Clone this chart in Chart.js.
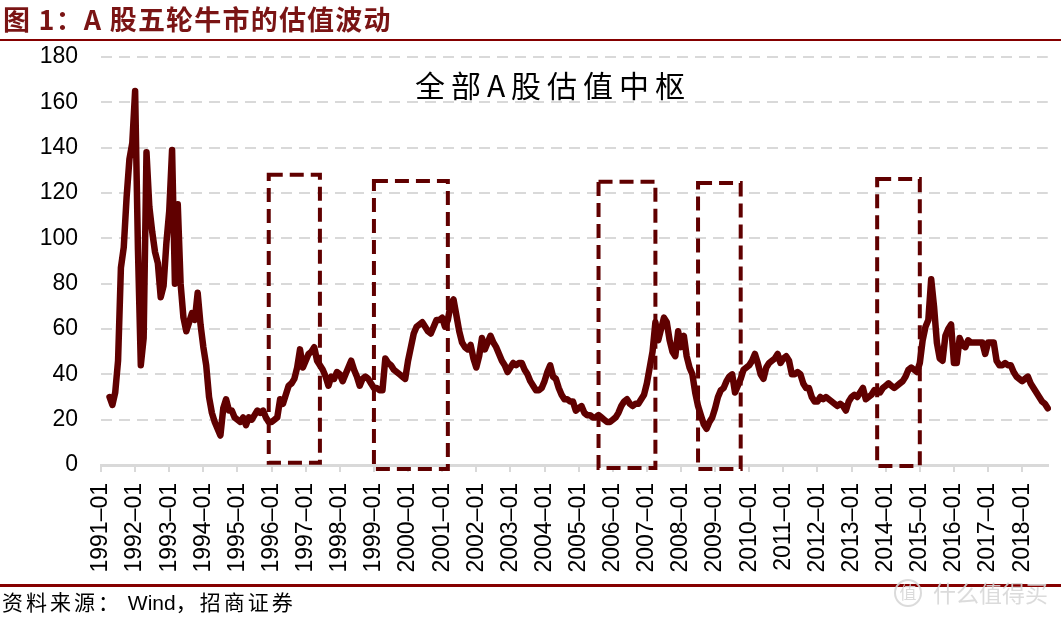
<!DOCTYPE html>
<html>
<head>
<meta charset="utf-8">
<script src="https://cdn.jsdelivr.net/npm/chart.js@4.4.0/dist/chart.umd.min.js"></script>
<style>
  html, body { margin: 0; padding: 0; background: #fff; }
  canvas { display: block; }
</style>
</head>
<body>
<canvas id="myChart" width="1061" height="618"></canvas>
<script>
// 全部A股估值（月度），1991-01 ~ 2018-10
const startYear = 1991;
const monthCount = 334;

const peValues = [
  null, null, null, 30, 26.5, 32, 46, 87, 96, 118, 135, 142,   // 1991
  165, 95, 44, 56, 138, 114, 103, 94, 89, 74, 79, 98,           // 1992
  112, 139, 80, 115, 80, 65, 59, 63, 67, 64, 76, 62,            // 1993
  52, 44, 30, 23, 19, 16, 13, 25, 29, 24, 24, 21,               // 1994
  20, 19, 21, 17.6, 21, 20, 22, 24, 23, 24, 21, 19,             // 1995
  19, 20, 21, 29, 27, 31, 35, 36, 38, 43, 51, 43,               // 1996
  46, 49, 50, 52, 46, 44, 42, 39, 35, 39, 38, 41,               // 1997
  40, 37, 40, 43, 46, 42, 39, 35, 38, 39, 38, 36,               // 1998
  34, 34, 33, 33, 47, 45, 44, 42, 41, 40, 39, 38,               // 1999
  46, 52, 58, 61, 62, 63, 61, 59, 58, 61, 64, 64,               // 2000
  65, 61, 64, 71, 73, 66, 59, 54, 52, 51, 53, 47,               // 2001
  43, 48, 56, 51, 54, 57, 54, 52, 49, 46, 44, 41,               // 2002
  43, 45, 44, 45, 45, 42, 40, 37, 35, 33, 33, 34,               // 2003
  37, 41, 44, 39, 38, 34, 31, 29, 29, 28, 28, 24,               // 2004
  25, 26, 23, 22, 22, 21, 21, 22, 21, 20, 19, 19,               // 2005
  20, 21, 23, 26, 28, 29, 27, 26, 27, 27, 29, 31,               // 2006
  36, 43, 50, 63, 55, 60, 65, 63, 55, 50, 48, 59,               // 2007
  52, 57, 48, 43, 40, 32, 26, 22, 18, 16, 19, 21,               // 2008
  25, 30, 33, 34, 37, 39, 40, 32, 35, 38, 42, 43,               // 2009
  44, 46, 49, 45, 40, 38, 43, 45, 46, 47, 49, 45,               // 2010
  47, 48, 46, 40, 40, 41, 40, 36, 34, 34, 30, 28,               // 2011
  28, 30, 29, 30, 29, 28, 27, 26, 27, 26, 24, 28,               // 2012
  30, 31, 30, 32, 34, 29, 30, 31, 33, 32, 32, 34,               // 2013
  35, 36, 35, 34, 35, 36, 37, 39, 42, 43, 42, 41,               // 2014
  45, 55, 61, 64, 82, 70, 54, 47, 46, 57, 60, 62,               // 2015
  45, 45, 56, 53, 52, 55, 54, 54, 54, 54, 54, 49,               // 2016
  54, 54, 54, 46, 44, 44, 45, 44, 44, 41, 39, 38,               // 2017
  37, 38, 39, 36, 34, 32, 30, 28, 27, 25                        // 2018
];

const yTicks = [0, 20, 40, 60, 80, 100, 120, 140, 160, 180];

// 五轮牛市（虚线框）
const bullRuns = [
  { from: '1995-12', to: '1997-06', top: 128, bottom: 1 },
  { from: '1999-01', to: '2001-03', top: 125.3, bottom: -1.8 },
  { from: '2005-08', to: '2007-04', top: 125, bottom: -1.3 },
  { from: '2008-07', to: '2009-10', top: 124.4, bottom: -1.8 },
  { from: '2013-10', to: '2015-01', top: 126.2, bottom: -0.4 }
];

const labels = [];
for (let i = 0; i < monthCount; i++) {
  const y = startYear + Math.floor(i / 12);
  const m = (i % 12) + 1;
  labels.push(y + '-' + (m < 10 ? '0' + m : m));
}

const darkRed = '#600000';
const cjk = '"Noto Sans CJK SC", "Liberation Sans", sans-serif';

const decor = {
  id: 'decor',
  beforeDraw(chart) {
    const ctx = chart.ctx;
    ctx.save();
    ctx.fillStyle = '#fff';
    ctx.fillRect(0, 0, chart.width, chart.height);
    ctx.restore();
  },
  afterDatasetsDraw(chart) {
    const ctx = chart.ctx;
    const xs = chart.scales.x, ys = chart.scales.y;
    ctx.save();
    ctx.strokeStyle = darkRed;
    ctx.lineWidth = 4;
    ctx.setLineDash([14, 7]);
    bullRuns.forEach(function(b) {
      const x1 = xs.getPixelForValue(labels.indexOf(b.from));
      const x2 = xs.getPixelForValue(labels.indexOf(b.to));
      const y1 = ys.getPixelForValue(b.top);
      const y2 = ys.getPixelForValue(b.bottom);
      ctx.strokeRect(x1, y1, x2 - x1, y2 - y1);
    });
    ctx.restore();
  },
  afterDraw(chart) {
    const ctx = chart.ctx;
    ctx.save();
    // 标题
    ctx.fillStyle = '#7a1414';
    ctx.font = 'bold 27px ' + cjk;
    ctx.textBaseline = 'alphabetic';
    ctx.letterSpacing = '1.2px';
    ctx.fillText('图 1：A 股五轮牛市的估值波动', 3, 30);
    ctx.letterSpacing = '0px';
    ctx.fillStyle = '#850000';
    ctx.fillRect(0, 39, chart.width, 2);
    // 注释
    ctx.fillStyle = '#000';
    ctx.font = '30px ' + cjk;
    ctx.textAlign = 'center';
    ctx.textBaseline = 'middle';
    ctx.letterSpacing = '6px';
    ctx.fillText('全部A股估值中枢', 553, 86);
    ctx.letterSpacing = '0px';
    // 资料来源
    ctx.fillStyle = '#850000';
    ctx.fillRect(0, 584, chart.width, 3);
    ctx.fillStyle = '#000';
    ctx.textAlign = 'left';
    ctx.textBaseline = 'alphabetic';
    let x = 2;
    [['资料来源：', cjk, '3px'], [' Wind', '"Liberation Sans", Arial, sans-serif', '0px'], ['，招商证券', cjk, '3px']].forEach(function(p) {
      ctx.font = '21px ' + p[1];
      ctx.letterSpacing = p[2];
      ctx.fillText(p[0], x, 610);
      x += ctx.measureText(p[0]).width;
    });
    ctx.letterSpacing = '0px';
    // 水印
    ctx.strokeStyle = 'rgba(215,215,215,0.9)';
    ctx.fillStyle = 'rgba(215,215,215,0.9)';
    ctx.lineWidth = 2;
    ctx.beginPath();
    ctx.arc(908, 593, 13, 0, Math.PI * 2);
    ctx.stroke();
    ctx.font = '17px ' + cjk;
    ctx.textAlign = 'center';
    ctx.textBaseline = 'middle';
    ctx.fillText('值', 908, 593);
    ctx.font = '23px ' + cjk;
    ctx.textAlign = 'left';
    ctx.fillText('什么值得买', 933, 593);
    ctx.restore();
  }
};

new Chart(document.getElementById('myChart'), {
  type: 'line',
  data: {
    labels: labels,
    datasets: [{
      label: '全部A股估值',
      data: peValues,
      borderColor: darkRed,
      borderWidth: 6.5,
      borderJoinStyle: 'round',
      borderCapStyle: 'round',
      pointRadius: 0,
      tension: 0,
      spanGaps: false
    }]
  },
  options: {
    responsive: false,
    animation: false,
    devicePixelRatio: 1,
    layout: { padding: { top: 57, right: 9, left: 0, bottom: 0 } },
    plugins: {
      legend: { display: false },
      tooltip: { enabled: false }
    },
    scales: {
      x: {
        type: 'category',
        offset: false,
        afterBuildTicks: function(scale) {
          scale.ticks = scale.ticks.filter(function(t) { return t.value % 12 === 0; });
        },
        afterFit: function(scale) { scale.height = 153; },
        grid: {
          drawOnChartArea: false,
          drawTicks: true,
          tickLength: 7,
          color: '#d9d9d9',
          lineWidth: 2
        },
        border: { display: true, color: '#d9d9d9', width: 3 },
        ticks: {
          autoSkip: false,
          minRotation: 90,
          maxRotation: 90,
          padding: 11,
          color: '#000',
          font: { family: '"Liberation Sans", Arial, sans-serif', size: 23 },
          callback: function(value) {
            return this.getLabelForValue(value).replace('-', '–');
          }
        }
      },
      y: {
        min: 0,
        max: 180,
        afterBuildTicks: function(scale) {
          scale.ticks = yTicks.map(function(v) { return { value: v }; });
        },
        afterFit: function(scale) { scale.width = 101; },
        grid: {
          color: '#d9d9d9',
          lineWidth: 2,
          drawTicks: false
        },
        border: { display: false, dash: [11, 7] },
        ticks: {
          padding: 23,
          color: '#000',
          font: { family: '"Liberation Sans", Arial, sans-serif', size: 23 }
        }
      }
    }
  },
  plugins: [decor]
});
</script>
</body>
</html>
